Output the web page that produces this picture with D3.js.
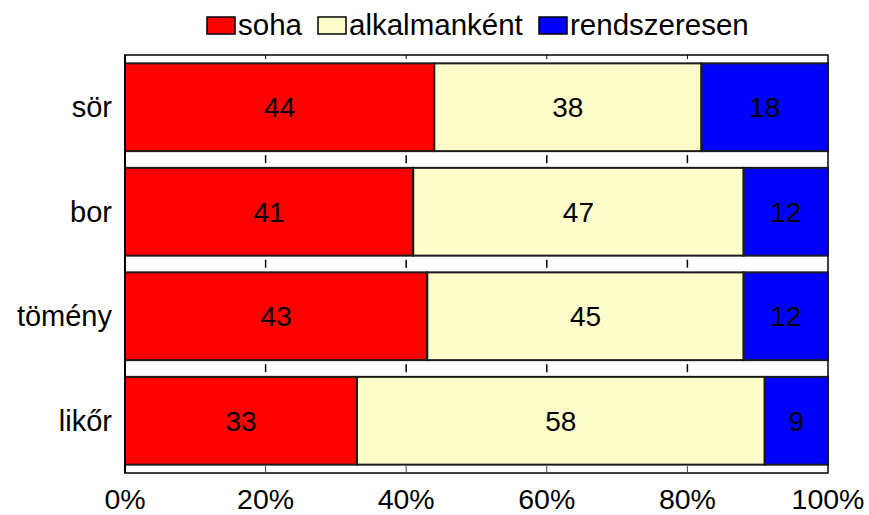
<!DOCTYPE html>
<html><head><meta charset="utf-8">
<script src="https://cdn.jsdelivr.net/npm/d3@7"></script>
<style>body{margin:0;background:#fff}svg{display:block}text{font-family:"Liberation Sans",Arial,sans-serif}</style>
</head><body><svg id="c" width="869" height="515"></svg>
<script>
const categories = ["sör","bor","tömény","likőr"];
const seriesNames = ["soha","alkalmanként","rendszeresen"];
const soha = [44,41,43,33];
const alkalmankent = [38,47,45,58];
const rendszeresen = [18,12,12,9];
const tickValues = [0,20,40,60,80,100];
const colors = ["#FF0000","url(#ylw)","#0000FF"];

const svg = d3.select("#c");
const defs = svg.append("defs");
const pat = defs.append("pattern").attr("id","ylw").attr("width",4).attr("height",4).attr("patternUnits","userSpaceOnUse");
pat.append("rect").attr("width",4).attr("height",4).attr("fill","#FFFFCC");
pat.append("rect").attr("x",0).attr("y",0).attr("width",1).attr("height",1).attr("fill","#F3F3C2");
pat.append("rect").attr("x",2).attr("y",2).attr("width",1).attr("height",1).attr("fill","#F3F3C2");

const L = 125, R = 828, T = 55, B = 473;
const x = d3.scaleLinear().domain([0,100]).range([L,R]);
const y = d3.scaleBand().domain(categories).range([T,B]).paddingInner(0.16).paddingOuter(0.08);

const table = categories.map((c,i)=>({cat:c, vals:[soha[i],alkalmankent[i],rendszeresen[i]]}));
const stack = d3.stack().keys([0,1,2]).value((d,k)=>d.vals[k])(table);

svg.append("rect").attr("x",L).attr("y",T).attr("width",R-L).attr("height",B-T)
  .attr("fill","#fff").attr("stroke","#000").attr("stroke-width",1.5);

const gaps = [];
categories.forEach((c,i)=>{ if(i>0) gaps.push(y(categories[i-1])+y.bandwidth()); });
tickValues.slice(1,-1).forEach(v=>{
  svg.append("line").attr("x1",x(v)).attr("x2",x(v)).attr("y1",T).attr("y2",T+4).attr("stroke","#000").attr("stroke-width",1);
  svg.append("line").attr("x1",x(v)).attr("x2",x(v)).attr("y1",B-7).attr("y2",B).attr("stroke","#444").attr("stroke-width",1);
  gaps.forEach(g=>{
    svg.append("line").attr("x1",x(v)).attr("x2",x(v)).attr("y1",g+4).attr("y2",g+12).attr("stroke","#000").attr("stroke-width",1.5);
  });
});

stack.forEach((s,k)=>{
  svg.append("g").selectAll("rect").data(s).join("rect")
    .attr("x",d=>x(d[0])).attr("width",d=>x(d[1])-x(d[0]))
    .attr("y",d=>y(d.data.cat)).attr("height",y.bandwidth())
    .attr("fill",colors[k]).attr("stroke","#1a1a1a").attr("stroke-width",2);
  svg.append("g").selectAll("text").data(s).join("text")
    .attr("x",d=>(x(d[0])+x(d[1]))/2).attr("y",d=>y(d.data.cat)+y.bandwidth()/2+10)
    .attr("text-anchor","middle").attr("font-size",28).attr("fill","#000")
    .text(d=>d[1]-d[0]);
});

svg.append("line").attr("x1",L).attr("x2",L).attr("y1",T).attr("y2",B).attr("stroke","#000").attr("stroke-width",2);

svg.append("g").selectAll("text").data(categories).join("text")
  .attr("x",112).attr("y",d=>y(d)+y.bandwidth()/2+10).attr("text-anchor","end")
  .attr("font-size",29).text(d=>d);

svg.append("g").selectAll("text").data(tickValues).join("text")
  .attr("x",d=>x(d)).attr("y",509).attr("text-anchor","middle").attr("font-size",28.5)
  .text(d=>d+"%");

const legX = [207,318,539];
seriesNames.forEach((n,i)=>{
  svg.append("rect").attr("x",legX[i]).attr("y",17).attr("width",28).attr("height",17)
    .attr("fill",colors[i]).attr("stroke","#000").attr("stroke-width",1.5);
  svg.append("text").attr("x",legX[i]+31).attr("y",35).attr("font-size",29.5).text(n);
});
</script></body></html>
